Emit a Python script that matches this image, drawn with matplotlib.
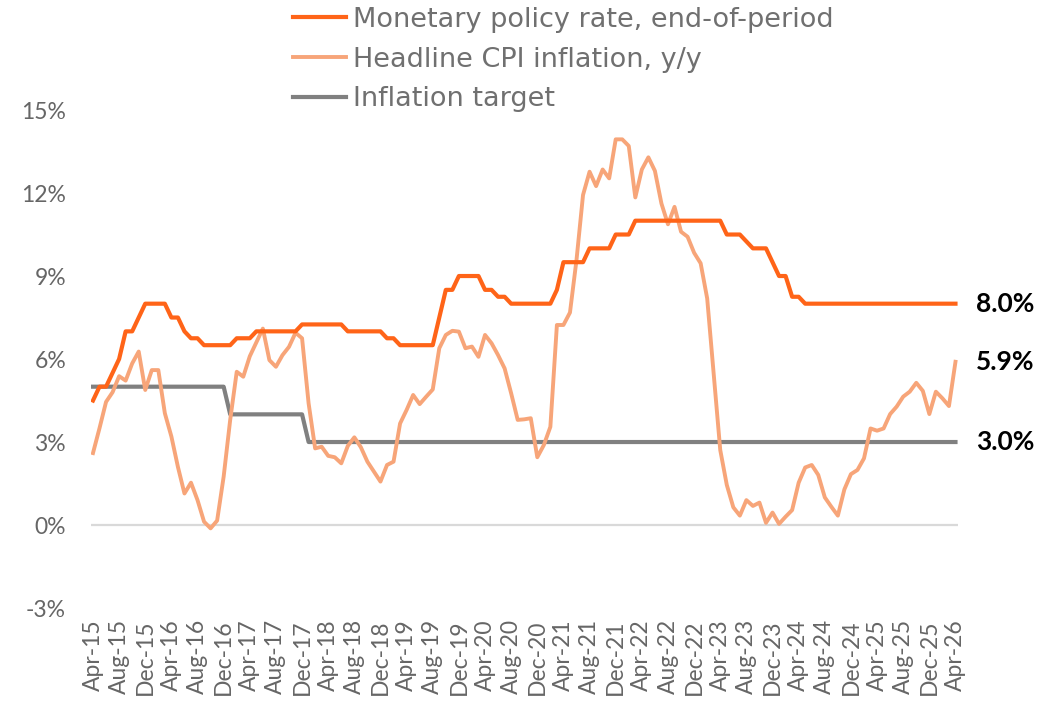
import numpy as np
import matplotlib.pyplot as plt

plt.rcParams['font.family'] = ['Lato', 'DejaVu Sans']

# monthly, Apr-15 .. Apr-26
months = ['Jan', 'Feb', 'Mar', 'Apr', 'May', 'Jun', 'Jul', 'Aug', 'Sep', 'Oct', 'Nov', 'Dec']
dates = []
for k in range(133):
    m = (3 + k) % 12
    y = 15 + (3 + k) // 12
    dates.append(f"{months[m]}-{y}")

policy_rate = ([4.5, 5.0, 5.0, 5.5, 6.0, 7.0, 7.0, 7.5, 8.0, 8.0, 8.0, 8.0,
                7.5, 7.5, 7.0, 6.75, 6.75, 6.5, 6.5, 6.5, 6.5, 6.5, 6.75, 6.75,
                6.75, 7.0, 7.0, 7.0, 7.0, 7.0, 7.0, 7.0, 7.25, 7.25, 7.25, 7.25,
                7.25, 7.25, 7.25, 7.0, 7.0, 7.0, 7.0, 7.0, 7.0, 6.75, 6.75, 6.5,
                6.5, 6.5, 6.5, 6.5, 6.5, 7.5, 8.5, 8.5, 9.0, 9.0, 9.0, 9.0,
                8.5, 8.5, 8.25, 8.25, 8.0, 8.0, 8.0, 8.0, 8.0, 8.0, 8.0, 8.5,
                9.5, 9.5, 9.5, 9.5, 10.0, 10.0, 10.0, 10.0, 10.5, 10.5, 10.5, 11.0,
                11.0, 11.0, 11.0, 11.0, 11.0, 11.0, 11.0, 11.0, 11.0, 11.0, 11.0, 11.0,
                11.0, 10.5, 10.5, 10.5, 10.25, 10.0, 10.0, 10.0, 9.5, 9.0, 9.0, 8.25,
                8.25] + [8.0] * 24)

cpi = [2.6, 3.5, 4.45, 4.8, 5.38, 5.22, 5.84, 6.27, 4.88, 5.6, 5.6, 4.04,
       3.2, 2.1, 1.14, 1.53, 0.9, 0.12, -0.12, 0.16, 1.75, 3.8, 5.54, 5.36,
       6.1, 6.6, 7.1, 5.96, 5.72, 6.14, 6.44, 6.95, 6.75, 4.4, 2.77, 2.83,
       2.5, 2.45, 2.23, 2.86, 3.17, 2.81, 2.29, 1.93, 1.57, 2.17, 2.29, 3.67,
       4.16, 4.7, 4.37, 4.64, 4.9, 6.39, 6.87, 7.02, 6.99, 6.39, 6.45, 6.08,
       6.87, 6.57, 6.14, 5.66, 4.76, 3.8, 3.82, 3.86, 2.45, 2.89, 3.55, 7.23,
       7.23, 7.68, 9.58, 11.93, 12.77, 12.25, 12.85, 12.53, 13.94, 13.94, 13.7, 11.84,
       12.85, 13.29, 12.8, 11.62, 10.87, 11.5, 10.6, 10.42, 9.84, 9.46, 8.19, 5.45,
       2.71, 1.45, 0.64, 0.34, 0.9, 0.69, 0.81, 0.08, 0.45, 0.04, 0.3, 0.54,
       1.53, 2.08, 2.17, 1.81, 1.0, 0.66, 0.34, 1.29, 1.84, 1.99, 2.41, 3.49,
       3.41, 3.49, 4.01, 4.28, 4.64, 4.82, 5.14, 4.85, 4.01, 4.82, 4.58, 4.3,
       5.9]

target = [5.0] * 21 + [4.0] * 12 + [3.0] * 100

c_policy = '#FF6418'
c_cpi = '#F7A579'
c_target = '#808080'
c_text = '#666666'

x = np.arange(len(dates))

fig = plt.figure(figsize=(10.51, 7.03), dpi=100)
ax = fig.add_axes([0.0866, 0.1351, 0.825, 0.7084])

ax.axhline(0, color='#D9D9D9', lw=1.6, zorder=1)
ax.plot(x, policy_rate, color=c_policy, lw=3.0, label='Monetary policy rate, end-of-period', zorder=4)
ax.plot(x, cpi, color=c_cpi, lw=2.8, label='Headline CPI inflation, y/y', zorder=3)
ax.plot(x, target, color=c_target, lw=3.0, label='Inflation target', zorder=2)

ax.set_xlim(-0.3, 132.4)
ax.set_ylim(-3, 15)
ax.set_yticks(np.arange(-3, 16, 3))
ax.set_yticklabels([f"{v}%" for v in range(-3, 16, 3)])
ax.set_xticks(x[::4])
ax.set_xticklabels(dates[::4], rotation=90)
ax.tick_params(axis='both', length=0, colors=c_text, labelsize=16.5)
ax.tick_params(axis='y', pad=18)
ax.tick_params(axis='x', pad=8)
for s in ax.spines.values():
    s.set_visible(False)

# end-of-series labels
for val in [policy_rate[-1], cpi[-1], target[-1]]:
    ax.annotate(f"{val:.1f}%", xy=(x[-1], val), xytext=(15, 0), textcoords='offset points',
                va='center', ha='left', fontsize=19, fontweight='bold', color='black')

leg = ax.legend(loc='upper left', bbox_to_anchor=(0.2778, 0.992), bbox_transform=fig.transFigure,
                frameon=False, prop={'family': 'DejaVu Sans', 'size': 19.5}, labelcolor='#707070',
                handlelength=1.95, handletextpad=0.25, labelspacing=0.5, borderaxespad=0, borderpad=0.05)

plt.savefig('out.png', dpi=100)
